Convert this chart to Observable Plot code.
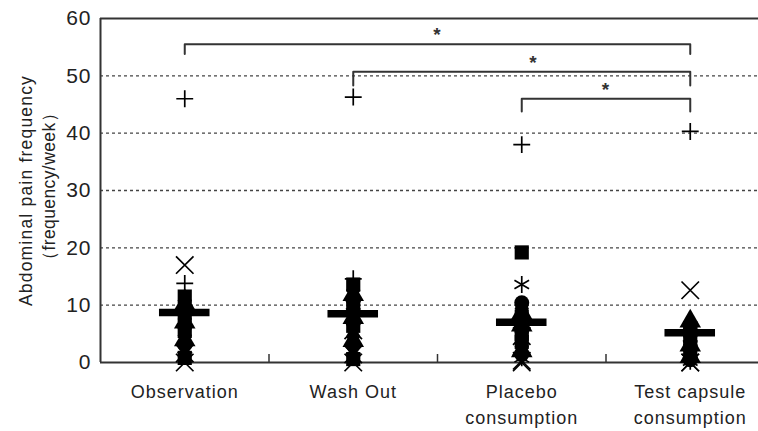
<!DOCTYPE html>
<html><head><meta charset="utf-8">
<script src="https://cdn.jsdelivr.net/npm/d3@7"></script>
<script src="https://cdn.jsdelivr.net/npm/@observablehq/plot@0.6"></script>
<style>
body{margin:0;background:#fff}
svg text{letter-spacing:1px}
</style>
</head><body><div id="chart"></div>
<script>
// Categories (x axis tick labels)
const categories = ["Observation", "Wash Out", "Placebo\nconsumption", "Test capsule\nconsumption"];
// Marker of each subject (same subject order in every group)
const subjectSymbols = ["plus","times","square","diamond","triangle","circle","asterisk","square","diamond","triangle",
                        "circle","times","plus","square","diamond","triangle","circle","asterisk","times","square"];
// Abdominal pain frequency per subject, per period
const observation = [46.0, 17.0, 11.5, 10.8, 10.2, 9.6, 9.0, 8.3, 7.6, 7.0, 6.3, 0.0, 13.8, 5.5, 4.7, 3.9, 3.1, 2.4, 1.6, 0.8];
const washOut     = [46.3, 5.6, 13.6, 12.6, 11.8, 10.9, 10.0, 9.3, 8.5, 7.8, 7.0, 0.0, 14.6, 6.4, 4.6, 3.8, 3.0, 2.2, 1.4, 0.6];
const placebo     = [38.0, 0.0, 19.2, 9.4, 8.6, 10.4, 13.6, 8.0, 7.2, 6.5, 5.6, 4.6, 7.6, 3.6, 2.8, 2.0, 1.4, 0.8, 0.3, 5.0];
const testCapsule = [40.3, 12.6, 6.0, 5.4, 7.2, 4.9, 4.4, 4.0, 3.5, 3.0, 2.5, 0.0, 6.4, 2.0, 1.5, 1.0, 0.5, 0.2, 0.0, 5.8];
// Group means (thick bars)
const means = [8.7, 8.5, 7.0, 5.2];
// Y axis ticks
const yTicks = [0, 10, 20, 30, 40, 50, 60];
const gridTicks = [10, 20, 30, 40, 50];
// X axis separator ticks (between categories)
const separators = [0.5, 1.5, 2.5];
// Significance brackets
const bracketFrom = [0, 1, 2];
const bracketTo = [3, 3, 3];
const bracketTop = [55.5, 50.7, 46.0];
const bracketEnd = [53.8, 48.3, 43.8];
const starX = [1.5, 2.07, 2.5];

const groups = [observation, washOut, placebo, testCapsule];
const points = [];
groups.forEach((vals, i) => vals.forEach((v, j) => points.push({x: i, y: v, sym: subjectSymbols[j]})));
const meanData = means.map((m, i) => ({x: i, y: m}));
const brackets = bracketFrom.flatMap((f, k) => [
  {k, x: f, y: bracketEnd[k]}, {k, x: f, y: bracketTop[k]},
  {k, x: bracketTo[k], y: bracketTop[k]}, {k, x: bracketTo[k], y: bracketEnd[k]}
]);
const stars = starX.map((x, k) => ({x, y: bracketTop[k]}));

const filled = ["square", "diamond", "triangle", "circle"];
const symbolR = {plus: 5.5, times: 8, asterisk: 8, square: 8, diamond: 7.5, triangle: 8, circle: 7.5};
const dotMarks = Object.keys(symbolR).map(s => {
  const data = points.filter(d => d.sym === s);
  return filled.includes(s)
    ? Plot.dot(data, {x: "x", y: "y", symbol: s, r: symbolR[s], fill: "#000", stroke: "none"})
    : Plot.dot(data, {x: "x", y: "y", symbol: s, r: symbolR[s], stroke: "#000", strokeWidth: 1.7, fill: "none"});
});

const chart = Plot.plot({
  width: 758, height: 431,
  marginLeft: 100, marginRight: 0, marginTop: 18, marginBottom: 69,
  x: {domain: [-0.5, 3.5], range: [100, 774]},
  y: {domain: [0, 60]},
  style: {fontFamily: "'Liberation Sans', Arial, sans-serif", fontSize: "17px", color: "#222", background: "#fff"},
  marks: [
    Plot.gridY(gridTicks, {stroke: "#444", strokeOpacity: 1, strokeDasharray: "3,3", strokeWidth: 1.3}),
    Plot.ruleY([0, 60], {stroke: "#333", strokeWidth: 2}),
    Plot.ruleX([-0.5], {stroke: "#333", strokeWidth: 2}),
    Plot.ruleX(separators, {y1: 0, y2: 0, insetTop: -8, stroke: "#333", strokeWidth: 1.5}),
    Plot.axisY({ticks: yTicks, tickSize: 0, tickPadding: 9, fontSize: 21, label: null}),
    Plot.axisX({ticks: [0, 1, 2, 3], tickSize: 0, tickPadding: 18, tickFormat: i => categories[i], fontSize: 18, lineHeight: 1.4, label: null}),
    ...dotMarks,
    Plot.ruleY(meanData, {y: "y", x1: d => d.x - 0.15, x2: d => d.x + 0.15, strokeWidth: 7.5, stroke: "#000"}),
    Plot.line(brackets, {x: "x", y: "y", z: "k", stroke: "#333", strokeWidth: 2, curve: "linear"}),
    Plot.text(stars, {x: "x", y: "y", text: () => "*", lineAnchor: "bottom", dy: -3, fontSize: 19, fontWeight: "bold", fill: "#333"}),
    Plot.text(["Abdominal pain frequency"], {frameAnchor: "left", textAnchor: "middle", rotate: -90, dx: -74, fontSize: 17.5}),
    Plot.text(["（frequency/week）"], {frameAnchor: "left", textAnchor: "middle", rotate: -90, dx: -51, dy: -4, fontSize: 17.5})
  ]
});
document.getElementById("chart").appendChild(chart);
d3.select(chart).selectAll("text").filter(function(){ return this.textContent.includes("week"); }).style("letter-spacing", "0.4px");
d3.select(chart).selectAll("text").filter(function(){ return this.textContent.includes("Abdominal"); }).style("letter-spacing", "1.2px");
</script>
</body></html>
